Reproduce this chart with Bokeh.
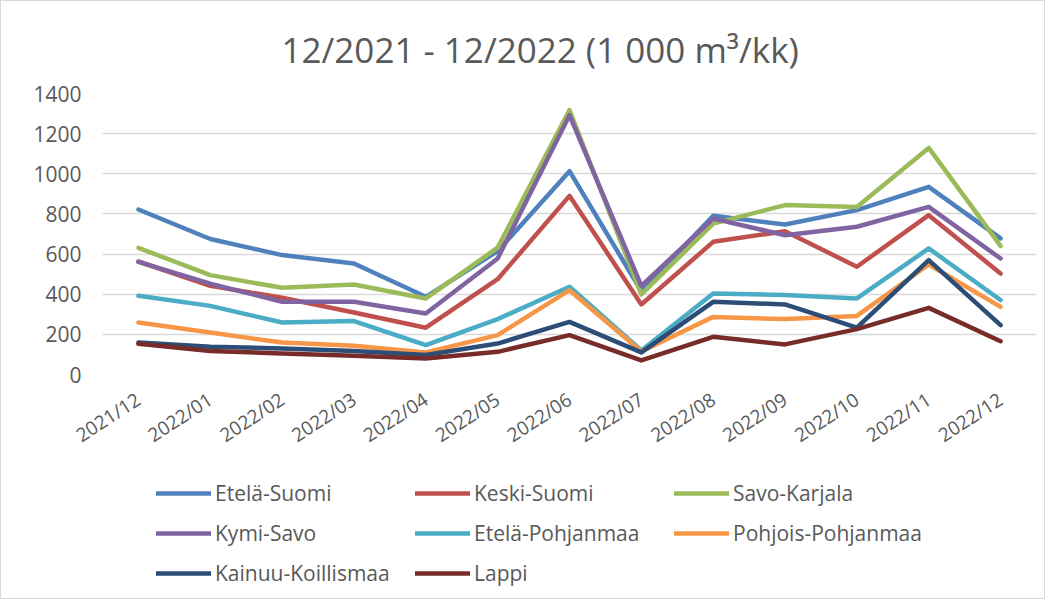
from bokeh.plotting import figure
from bokeh.layouts import column
from bokeh.models import FactorRange, Range1d, FixedTicker, Legend, LegendItem
from bokeh.embed import file_html
from bokeh.resources import INLINE

months = ["2021/12", "2022/01", "2022/02", "2022/03", "2022/04", "2022/05", "2022/06",
          "2022/07", "2022/08", "2022/09", "2022/10", "2022/11", "2022/12"]

etela_suomi = [822, 675, 595, 553, 387, 615, 1013, 415, 791, 747, 819, 935, 678]
keski_suomi = [563, 442, 382, 309, 233, 475, 890, 349, 661, 714, 537, 794, 503]
savo_karjala = [631, 495, 432, 448, 379, 632, 1317, 399, 752, 844, 835, 1129, 641]
kymi_savo = [561, 453, 362, 362, 304, 578, 1292, 442, 777, 694, 736, 835, 578]
etela_pohjanmaa = [392, 342, 259, 266, 146, 276, 437, 120, 404, 396, 379, 628, 371]
pohjois_pohjanmaa = [259, 209, 159, 143, 110, 196, 420, 115, 287, 276, 292, 548, 337]
kainuu_koillismaa = [159, 138, 130, 117, 97, 154, 262, 110, 362, 349, 233, 570, 246]
lappi = [153, 117, 105, 93, 80, 113, 196, 70, 188, 150, 226, 332, 166]

series_names = ["Etelä-Suomi", "Keski-Suomi", "Savo-Karjala", "Kymi-Savo",
                "Etelä-Pohjanmaa", "Pohjois-Pohjanmaa", "Kainuu-Koillismaa", "Lappi"]
series_values = [etela_suomi, keski_suomi, savo_karjala, kymi_savo,
                 etela_pohjanmaa, pohjois_pohjanmaa, kainuu_koillismaa, lappi]
colors = ["#4F81BD", "#C0504D", "#9BBB59", "#8064A2",
          "#4BACC6", "#F79646", "#2C4D75", "#772C2A"]

y_ticks = [0, 200, 400, 600, 800, 1000, 1200, 1400]
y_max = 1400

FONT = "Open Sans"
TXT = "#595959"

W = 1043
H_CHART, H_LEG = 465, 132

# ---------- chart ----------
p = figure(width=W, height=H_CHART, x_range=FactorRange(*months), y_range=Range1d(0, y_max),
           output_backend="svg", toolbar_location=None,
           title="12/2021 - 12/2022 (1 000 m³/kk)",
           min_border_left=101, min_border_right=8, min_border_top=92, min_border_bottom=92)
p.x_range.range_padding = 0

p.title.text_font = FONT
p.title.text_font_size = "35px"
p.title.text_font_style = "normal"
p.title.text_color = TXT
p.title.align = "left"
p.title.offset = 179
p.title.standoff = 41

p.outline_line_color = None
p.xgrid.grid_line_color = None
p.ygrid.grid_line_color = "#d9d9d9"
p.ygrid.grid_line_width = 1.3

p.yaxis.ticker = FixedTicker(ticks=y_ticks)
for ax in (p.xaxis[0], p.yaxis[0]):
    ax.axis_line_color = None
    ax.major_tick_line_color = None
    ax.minor_tick_line_color = None
    ax.major_label_text_font = FONT
    ax.major_label_text_color = TXT
p.yaxis.major_label_text_font_size = "21px"
p.yaxis.major_label_standoff = 15
p.xaxis.major_label_text_font_size = "19px"
p.xaxis.major_label_orientation = 0.576
p.xaxis.major_label_standoff = 17

for name, vals, col in zip(series_names, series_values, colors):
    p.line(months, vals, line_color=col, line_width=4.5,
           line_join="round", line_cap="round")

# ---------- legend strip (same series, legend only) ----------
lg = figure(width=W, height=H_LEG, x_range=FactorRange(*months),
            y_range=Range1d(2 * y_max, 3 * y_max),
            output_backend="svg", toolbar_location=None,
            min_border_left=0, min_border_right=0, min_border_top=0, min_border_bottom=0)
lg.axis.visible = False
lg.grid.visible = False
lg.outline_line_color = None

items = []
for name, vals, col in zip(series_names, series_values, colors):
    r = lg.line(months, vals, line_color=col, line_width=4.5,
                line_join="round", line_cap="round")
    items.append(LegendItem(label=name, renderers=[r]))

legend = Legend(items=items, orientation="horizontal", ncols=3,
                location=(54, 5), padding=0, spacing=0, margin=0,
                glyph_width=55, glyph_height=40, label_standoff=4, label_width=200,
                label_text_font=FONT, label_text_font_size="21px",
                label_text_color=TXT, border_line_color=None,
                background_fill_alpha=0)
lg.add_layout(legend, "center")

layout = column(p, lg, spacing=0)
layout.styles = {"border": "1px solid #d9d9d9"}

open("out.html", "w").write(file_html(layout, INLINE))
